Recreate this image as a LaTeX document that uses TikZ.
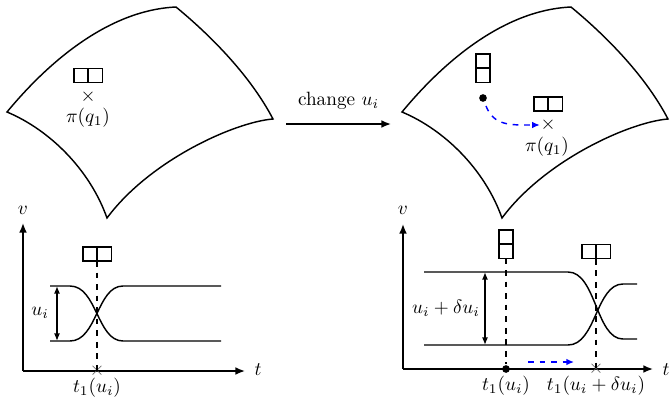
\documentclass[tikz,border=0pt]{standalone}
\usetikzlibrary{arrows.meta}
\begin{document}
\begin{tikzpicture}[x=0.52pt,y=-0.52pt, line width=0.75pt,
 sq/.style={draw, line width=0.75pt, minimum size=7.3pt, inner sep=0pt, outer sep=0pt},
 axisarr/.style={line width=0.75pt, -{Latex[length=5pt,width=4pt]}},
 dbl/.style={line width=0.75pt, {Latex[length=4pt,width=3.2pt]}-{Latex[length=4pt,width=3.2pt]}},
 bluearr/.style={blue, dashed, line width=0.75pt, -{Latex[length=4pt,width=3.5pt]}},
 xm/.style={inner sep=0pt},
 dotn/.style={circle, fill=black, inner sep=0pt, minimum size=4pt},
 vline/.style={dashed, line width=0.7pt},
 curve/.style={line width=0.75pt},
 ]
\useasboundingbox (0,0) rectangle (672,399);

% ---------- left surface ----------
\coordinate (la) at (7,112);
\coordinate (lb) at (176,7);
\coordinate (lc) at (273,119);
\coordinate (ld) at (107,218);
\draw[curve] (la) .. controls (50,60) and (110,10) .. (lb)
  .. controls (210,35) and (250,75) .. (lc)
  .. controls (235,122) and (150,160) .. (ld)
  .. controls (90,170) and (50,130) .. (la) -- cycle;
\node[sq] (s1a) at (81,75.5) {};
\node[sq] (s1b) at (95.5,75.5) {};
\node[xm] (x1) at (88,97) {$\times$};
\node (p1) at (88,118) {$\pi(q_1)$};

% ---------- change arrow ----------
\coordinate (ca) at (286,124);
\coordinate (cb) at (391,124);
\draw[axisarr] (ca) -- (cb) node[midway, above=4pt] (cl) {change $u_i$};

% ---------- right surface ----------
\begin{scope}[xshift=395*0.52pt]
\coordinate (ra) at (7,112);
\coordinate (rb) at (176,7);
\coordinate (rc) at (273,119);
\coordinate (rd) at (107,218);
\draw[curve] (ra) .. controls (50,60) and (110,10) .. (rb)
  .. controls (210,35) and (250,75) .. (rc)
  .. controls (235,122) and (150,160) .. (rd)
  .. controls (90,170) and (50,130) .. (ra) -- cycle;
\end{scope}
\node[sq] (s2a) at (483,61) {};
\node[sq] (s2b) at (483,75.5) {};
\node[dotn] (d2) at (483,98) {};
\node[sq] (s3a) at (541,104) {};
\node[sq] (s3b) at (555.5,104) {};
\node[xm] (x2) at (548,125) {$\times$};
\node (p2) at (547,147) {$\pi(q_1)$};
\draw[bluearr] (d2) ++(3,8) coordinate (bs) .. controls (494,126) and (510,125) .. (x2.west);

% ---------- left plot ----------
\coordinate (o1) at (23,371);
\coordinate (v1) at (23,223);
\coordinate (t1) at (245,371);
\draw[axisarr] (o1) -- (v1);
\draw[axisarr] (o1) -- (t1);
\node (vl1) at (23,210) {$v$};
\node (tl1) at (258,370) {$t$};
\draw[curve] (50,286) -- (70,286) .. controls (97,286) and (97,341) .. (123,341) -- (221,341);
\draw[curve] (50,341) -- (70,341) .. controls (97,341) and (97,286) .. (123,286) -- (221,286);
\coordinate (u1t) at (57,286);
\coordinate (u1b) at (57,341);
\draw[dbl] (u1t) -- (u1b);
\node (ul1) at (40,313) {$u_i$};
\node[sq] (s4a) at (90,254) {};
\node[sq] (s4b) at (104.5,254) {};
\node[xm, gray!70!black] (x3) at (97,371) {$\times$};
\draw[vline] (97,261) coordinate (q1) -- (x3.center);
\node (tt1) at (97,388) {$t_1(u_i)$};

% ---------- right plot ----------
\coordinate (o2) at (403,369);
\coordinate (v2) at (403,224);
\coordinate (t2) at (653,369);
\draw[axisarr] (o2) -- (v2);
\draw[axisarr] (o2) -- (t2);
\node (vl2) at (403,210) {$v$};
\node (tl2) at (666,370) {$t$};
\draw[curve] (424,272) -- (568,272) .. controls (596,272) and (596,339) .. (623,339) -- (637,339);
\draw[curve] (424,345) -- (568,345) .. controls (596,345) and (596,284) .. (623,284) -- (637,284);
\coordinate (u2t) at (485,272);
\coordinate (u2b) at (485,345);
\draw[dbl] (u2t) -- (u2b);
\node (ul2) at (446,308) {$u_i+\delta u_i$};
\node[sq] (s5a) at (506,237) {};
\node[sq] (s5b) at (506,251.5) {};
\node[dotn] (d5) at (506,369) {};
\draw[vline] (s5b.south) -- (d5);
\node[sq] (s6a) at (589,251.5) {};
\node[sq] (s6b) at (603.5,251.5) {};
\node[xm, gray!70!black] (x6) at (596,369) {$\times$};
\draw[vline] (596,258.8) coordinate (q6) -- (x6.center);
\coordinate (ba) at (528,362);
\coordinate (bb) at (574,362);
\draw[bluearr] (ba) -- (bb);
\node (tt2) at (506,386) {$t_1(u_i)$};
\node (tt3) at (596,386) {$t_1(u_i+\delta u_i)$};
\end{tikzpicture}
\end{document}
